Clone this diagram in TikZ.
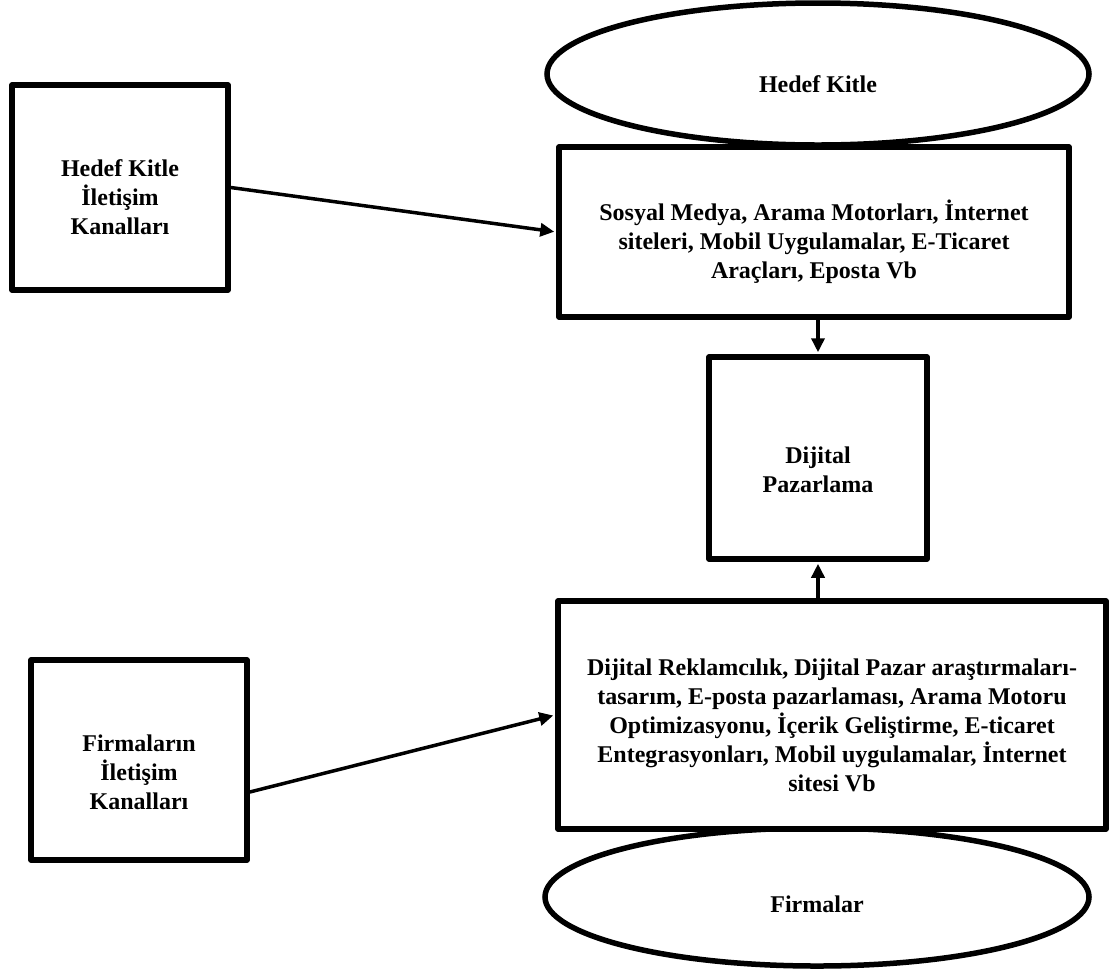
\documentclass[tikz,border=0pt]{standalone}
\usepackage{fontspec}
\setmainfont{Liberation Serif}
\usetikzlibrary{shapes.geometric,arrows.meta}

\begin{document}
\begin{tikzpicture}[x=1pt,y=-1pt,
  frame/.style={draw, line width=5.5pt, line join=round, fill=white, inner sep=0pt},
  oval/.style={draw, ellipse, line width=5.5pt, fill=white, inner sep=0pt},
  txt/.style={font=\bfseries\fontsize{24}{29}\selectfont, align=center, inner sep=0pt},
  link/.style={line width=3.5pt, shorten >=2pt, -{Triangle[length=14pt,width=13pt]}}
]
\useasboundingbox (0,0) rectangle (1115,970);

% audience side
\node[oval, minimum width=542pt, minimum height=142pt] (kitle) at (818,74) {};
\node[txt] (kitletxt) at (818,84) {Hedef Kitle};

\node[frame, minimum width=510pt, minimum height=170pt] (kanal) at (814,232) {};
\node[txt] (kanaltxt) at (814,242) {Sosyal Medya, Arama Motorları, İnternet\\siteleri, Mobil Uygulamalar, E-Ticaret\\Araçları, Eposta Vb};

\node[frame, minimum width=216pt, minimum height=205pt] (hk) at (120,187.5) {};
\node[txt] (hktxt) at (120,197) {Hedef Kitle\\İletişim\\Kanalları};

% centre
\node[frame, minimum width=218pt, minimum height=202pt] (dp) at (818,458) {};
\node[txt] (dptxt) at (818,470) {Dijital\\Pazarlama};

% company side
\node[oval, minimum width=544pt, minimum height=138pt] (firma) at (817,897) {};
\node[txt] (firmatxt) at (817,904) {Firmalar};

\node[frame, minimum width=548pt, minimum height=228pt] (arac) at (832,715) {};
\node[txt] (aractxt) at (832,725) {Dijital Reklamcılık, Dijital Pazar araştırmaları-\\tasarım, E-posta pazarlaması, Arama Motoru\\Optimizasyonu, İçerik Geliştirme, E-ticaret\\Entegrasyonları, Mobil uygulamalar, İnternet\\sitesi Vb};

\node[frame, minimum width=216pt, minimum height=200pt] (fk) at (139,760) {};
\node[txt] (fktxt) at (139,772) {Firmaların\\İletişim\\Kanalları};

% connectors
\draw[link] (hk.east) -- (kanal.west);
\draw[link] ([yshift=-32pt]fk.east) -- (arac.west);
\draw[link] (dp.north |- kanal.south) -- (dp.north);
\draw[link] (dp.south |- arac.north) -- (dp.south);
\end{tikzpicture}
\end{document}
